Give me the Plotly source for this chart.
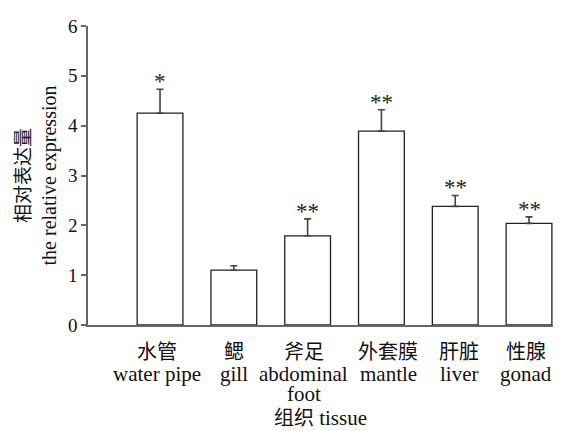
import plotly.graph_objects as go

categories = ["水管", "鳃", "斧足", "外套膜", "肝脏", "性腺"]
english = ["water pipe", "gill", "abdominal", "mantle", "liver", "gonad"]
english2 = ["", "", "foot", "", "", ""]
values = [4.25, 1.10, 1.79, 3.89, 2.38, 2.04]
errors = [0.48, 0.09, 0.34, 0.43, 0.22, 0.13]
stars = ["*", "", "**", "**", "**", "**"]
yticks = [0, 1, 2, 3, 4, 5, 6]

# small horizontal nudges of the category labels (px), as in the reference
label_nudge = [-3, 0, -4, 7, 4, -3]

FONT = "Liberation Serif, Times New Roman, Noto Sans CJK SC, serif"
CJKFONT = "Noto Sans CJK SC"


def cjk(t, size):
    return f'<span style="font-family:\'{CJKFONT}\';font-size:{size}px">{t}</span>'


fig = go.Figure()
fig.add_trace(go.Bar(
    x=categories, y=values,
    width=0.62,
    marker=dict(color="white", line=dict(color="#222", width=1.3)),
    error_y=dict(type="data", array=errors, arrayminus=[0]*len(errors),
                 symmetric=False, color="#444", thickness=1.6, width=3.5),
))

for c, v, e, s in zip(categories, values, errors, stars):
    if s:
        fig.add_annotation(x=c, y=v + e, text=s, showarrow=False,
                           yanchor="bottom", yshift=-7,
                           font=dict(family=FONT, size=23, color="#222"))

# category labels: Chinese row, English row, optional second English row
for c, en, en2, dx in zip(categories, english, english2, label_nudge):
    fig.add_annotation(x=c, xref="x", y=0, yref="paper", text=c, showarrow=False,
                       yanchor="middle", yshift=-25, xshift=dx,
                       font=dict(family=CJKFONT, size=20, color="#111"))
    fig.add_annotation(x=c, xref="x", y=0, yref="paper", text=en, showarrow=False,
                       yanchor="middle", yshift=-49, xshift=dx,
                       font=dict(family=FONT, size=21, color="#111"))
    if en2:
        fig.add_annotation(x=c, xref="x", y=0, yref="paper", text=en2, showarrow=False,
                           yanchor="middle", yshift=-69, xshift=dx,
                           font=dict(family=FONT, size=21, color="#111"))

# page body has an 8px default margin: figure is drawn at (8, 8)
fig.update_layout(
    width=545, height=423,
    margin=dict(l=80, r=0, t=18, b=106),
    plot_bgcolor="white", paper_bgcolor="white",
    showlegend=False,
    font=dict(family=FONT, size=21, color="#111"),
)
fig.update_xaxes(
    type="category", categoryorder="array", categoryarray=categories,
    range=[-0.976, 5.325], automargin=False,
    showticklabels=False,
    showline=True, linecolor="#666", linewidth=1.5,
    ticks="", showgrid=False, zeroline=False,
    title=dict(text=cjk("组织", 20) + " tissue", standoff=85, font=dict(size=21)),
)
fig.update_yaxes(
    range=[0, 6], tickvals=yticks, automargin=False,
    showline=True, linecolor="#666", linewidth=1.5,
    ticks="outside", ticklen=5, tickcolor="#666", tickwidth=1.5,
    showgrid=False, zeroline=False,
    title=dict(text=cjk("相对表达量", 19) + "<br>the relative expression", standoff=19, font=dict(size=20)),
    tickfont=dict(size=19),
)

fig.write_html("out.html")
